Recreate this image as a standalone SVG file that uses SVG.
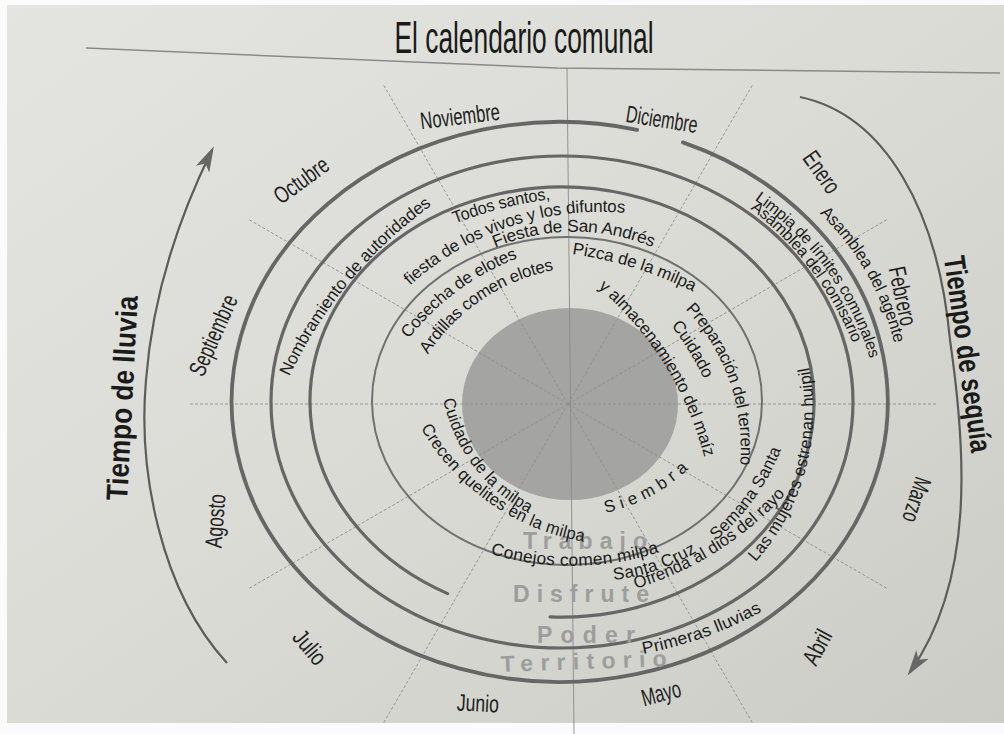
<svg xmlns="http://www.w3.org/2000/svg" width="1004" height="734" viewBox="0 0 1004 734">
<defs>
<linearGradient id="paper" x1="0" y1="0" x2="1" y2="1">
<stop offset="0" stop-color="#e4e5e0"/>
<stop offset="0.5" stop-color="#dadbd5"/>
<stop offset="1" stop-color="#cbccc6"/>
</linearGradient>
<marker id="ah" viewBox="0 0 24 14" refX="20" refY="7" markerWidth="26" markerHeight="15" markerUnits="userSpaceOnUse" orient="auto">
<path d="M0,0 L24,7 L0,14 L6,7 Z" fill="#676767"/>
</marker>
<path id="p1" d="M284 374 A450 450 0 0 1 430 199"/>
<path id="p2" d="M453 218 A400 400 0 0 1 553 193"/>
<path id="p3" d="M406 281 A288 288 0 0 1 635 208"/>
<path id="p4" d="M493 242 A210 210 0 0 1 658 243"/>
<path id="p5" d="M573 248 A405 405 0 0 1 697 287"/>
<path id="p6" d="M404 335 A260 260 0 0 1 517 252"/>
<path id="p7" d="M423 351 A200 200 0 0 1 554 264"/>
<path id="p8" d="M602 283 A342 342 0 0 1 711 459"/>
<path id="p9" d="M676 322 A300 300 0 0 1 711 380"/>
<path id="p10" d="M690 305 A209 209 0 0 1 746 467"/>
<path id="p11" d="M604 507 A169 169 0 0 0 686 463"/>
<path id="p12" d="M449 398 A160 160 0 0 0 530 507"/>
<path id="p13" d="M426 425 A227 227 0 0 0 587 536"/>
<path id="p14" d="M492 548 A279 279 0 0 0 662 545"/>
<path id="p15" d="M613 574 A200 200 0 0 0 695 546"/>
<path id="p16" d="M634 583 A330 330 0 0 0 782 489"/>
<path id="p17" d="M712 536 A224 224 0 0 0 776 446"/>
<path id="p18" d="M751 558 A220 220 0 0 0 803 367"/>
<path id="p19" d="M642 648 A400 400 0 0 0 761 605"/>
<path id="p20" d="M824 209 A274 274 0 0 1 900 342"/>
<path id="p21" d="M758 195 A300 300 0 0 1 877 362"/>
<path id="p22" d="M754 204 A330 330 0 0 1 860 345"/>
</defs>
<style>
.ring{fill:none;stroke:#666;stroke-width:3.2;stroke-linecap:round}
.thin{stroke:#707070;stroke-width:2}
.rad{stroke:#8e8e8e;stroke-width:0.9;stroke-dasharray:3 2;fill:none}
.t{font-family:"Liberation Sans",Arial,sans-serif;font-size:17px;fill:#1c1c1c;dominant-baseline:central}
.sm{font-size:16px}
.mo{font-family:"Liberation Sans",Arial,sans-serif;font-size:24px;fill:#222;text-anchor:middle;dominant-baseline:central}
.band{font-family:"Liberation Sans",Arial,sans-serif;font-size:23px;font-weight:bold;fill:#9d9d9d}
.season{font-family:"Liberation Sans",Arial,sans-serif;font-size:30px;font-weight:bold;fill:#1a1a1a;text-anchor:middle;dominant-baseline:central}
.arrow{fill:none;stroke:#5c5c5c;stroke-width:2.2}
</style>
<rect width="1004" height="734" fill="#fbfbfb"/>
<rect x="7" y="5" width="997" height="718" fill="url(#paper)"/>

<g id="title">
<polyline points="86,48 557,68 1000,73" fill="none" stroke="#8a8a8a" stroke-width="1.5"/>
<text x="524" y="53" text-anchor="middle" textLength="259" lengthAdjust="spacingAndGlyphs" style="font-family:'Liberation Sans',Arial,sans-serif;font-size:44px;fill:#1a1a1a">El calendario comunal</text>
</g>

<g id="disk">
<ellipse cx="570" cy="404" rx="108" ry="96" fill="#a4a4a2"/>
</g>

<g id="radials">
<line class="rad" x1="567" y1="68" x2="574" y2="734" style="stroke-dasharray:none;stroke:#8a8a8a"/>
<line class="rad" x1="568" y1="404" x2="938" y2="404"/>
<line class="rad" x1="568" y1="404" x2="888" y2="589"/>
<line class="rad" x1="568" y1="404" x2="753" y2="724"/>
<line class="rad" x1="568" y1="404" x2="383" y2="724"/>
<line class="rad" x1="568" y1="404" x2="248" y2="589"/>
<line class="rad" x1="568" y1="404" x2="190" y2="404"/>
<line class="rad" x1="568" y1="404" x2="248" y2="219"/>
<line class="rad" x1="568" y1="404" x2="383" y2="84"/>
<line class="rad" x1="568" y1="404" x2="753" y2="84"/>
<line class="rad" x1="568" y1="404" x2="888" y2="219"/>
</g>

<g id="rings">
<ellipse class="ring thin" cx="567" cy="401" rx="195" ry="164"/>
<path class="ring" d="M447.6 593.6 A252 215 0 1 1 550.1 616.8"/>
<ellipse class="ring" cx="562" cy="402" rx="291" ry="246"/>
<path class="ring" style="stroke-width:3.8" d="M682.9 142.4 A328 280 0 1 1 637.1 129.8"/>
</g>

<g id="bands">
<text class="band" x="523" y="549" textLength="124" lengthAdjust="spacing">Trabajo</text>
<text class="band" x="513" y="602" textLength="136" lengthAdjust="spacing">Disfrute</text>
<text class="band" x="537" y="643" textLength="98" lengthAdjust="spacing">Poder</text>
<text class="band" x="501" y="672" textLength="166" lengthAdjust="spacing" transform="rotate(-2 501 672)">Territorio</text>
</g>

<g id="connectors">
<path class="arrow" d="M227 663 C160 590 138 470 146 380 C153 290 180 215 212 150" marker-end="url(#ah)"/>
<path class="arrow" d="M800 97 C885 115 938 210 950 340 C966 450 975 580 910 672" marker-end="url(#ah)"/>
</g>

<g id="seasons">
<text id="lluvia" class="season" transform="translate(122,398) rotate(-87)" textLength="205" lengthAdjust="spacingAndGlyphs">Tiempo de lluvia</text>
<text id="sequia" class="season" transform="translate(968,354) rotate(82)" textLength="198" lengthAdjust="spacingAndGlyphs">Tiempo de sequía</text>
</g>

<g id="months">
<g id="m-nov"><text class="mo" transform="translate(460,116) rotate(-7)" textLength="80" lengthAdjust="spacingAndGlyphs">Noviembre</text></g>
<g id="m-dic"><text class="mo" transform="translate(662,119) rotate(9)" textLength="72" lengthAdjust="spacingAndGlyphs">Diciembre</text></g>
<g id="m-ene"><text class="mo" transform="translate(822,172) rotate(55)" textLength="46" lengthAdjust="spacingAndGlyphs">Enero</text></g>
<g id="m-feb"><text class="mo" transform="translate(903,296) rotate(78)" textLength="60" lengthAdjust="spacingAndGlyphs">Febrero</text></g>
<g id="m-mar"><text class="mo" transform="translate(917,500) rotate(108)" textLength="46" lengthAdjust="spacingAndGlyphs">Marzo</text></g>
<g id="m-abr"><text class="mo" transform="translate(817,647) rotate(-62)" textLength="36" lengthAdjust="spacingAndGlyphs">Abril</text></g>
<g id="m-may"><text class="mo" transform="translate(661,693) rotate(-15)" textLength="40" lengthAdjust="spacingAndGlyphs">Mayo</text></g>
<g id="m-jun"><text class="mo" transform="translate(478,703) rotate(3)" textLength="42" lengthAdjust="spacingAndGlyphs">Junio</text></g>
<g id="m-jul"><text class="mo" transform="translate(310,647) rotate(50)" textLength="38" lengthAdjust="spacingAndGlyphs">Julio</text></g>
<g id="m-ago"><text class="mo" transform="translate(215,521) rotate(-86)" textLength="54" lengthAdjust="spacingAndGlyphs">Agosto</text></g>
<g id="m-sep"><text class="mo" transform="translate(213,335) rotate(-66)" textLength="86" lengthAdjust="spacingAndGlyphs">Septiembre</text></g>
<g id="m-oct"><text class="mo" transform="translate(301,180) rotate(-36)" textLength="62" lengthAdjust="spacingAndGlyphs">Octubre</text></g>
</g>

<g id="events">
<g id="e1"><text class="t"><textPath href="#p1" textLength="228" lengthAdjust="spacingAndGlyphs">Nombramiento de autoridades</textPath></text></g>
<g id="e2"><text class="t"><textPath href="#p2" textLength="100" lengthAdjust="spacingAndGlyphs">Todos santos,</textPath></text></g>
<g id="e3"><text class="t"><textPath href="#p3" textLength="238" lengthAdjust="spacingAndGlyphs">fiesta de los vivos y los difuntos</textPath></text></g>
<g id="e4"><text class="t"><textPath href="#p4" textLength="166" lengthAdjust="spacingAndGlyphs">Fiesta de San Andrés</textPath></text></g>
<g id="e5"><text class="t"><textPath href="#p5" textLength="129" lengthAdjust="spacingAndGlyphs">Pizca de la milpa</textPath></text></g>
<g id="e6"><text class="t"><textPath href="#p6" textLength="140" lengthAdjust="spacingAndGlyphs">Cosecha de elotes</textPath></text></g>
<g id="e7"><text class="t"><textPath href="#p7" textLength="160" lengthAdjust="spacingAndGlyphs">Ardillas comen elotes</textPath></text></g>
<g id="e8"><text class="t"><textPath href="#p8" textLength="207" lengthAdjust="spacingAndGlyphs">y almacenamiento del maíz</textPath></text></g>
<g id="e9"><text class="t"><textPath href="#p9" textLength="64" lengthAdjust="spacingAndGlyphs">Cuidado</textPath></text></g>
<g id="e10"><text class="t"><textPath href="#p10" textLength="175" lengthAdjust="spacingAndGlyphs">Preparación del terreno</textPath></text></g>
<g id="e11"><text class="t"><textPath href="#p11" textLength="92" lengthAdjust="spacing">Siembra</textPath></text></g>
<g id="e12"><text class="t"><textPath href="#p12" textLength="142" lengthAdjust="spacingAndGlyphs">Cuidado de la milpa</textPath></text></g>
<g id="e13"><text class="t"><textPath href="#p13" textLength="200" lengthAdjust="spacingAndGlyphs">Crecen quelites en la milpa</textPath></text></g>
<g id="e14"><text class="t"><textPath href="#p14" textLength="168" lengthAdjust="spacingAndGlyphs">Conejos comen milpa</textPath></text></g>
<g id="e15"><text class="t"><textPath href="#p15" textLength="86" lengthAdjust="spacingAndGlyphs">Santa Cruz</textPath></text></g>
<g id="e16"><text class="t"><textPath href="#p16" textLength="176" lengthAdjust="spacingAndGlyphs">Ofrenda al dios del rayo</textPath></text></g>
<g id="e17"><text class="t"><textPath href="#p17" textLength="110" lengthAdjust="spacingAndGlyphs">Semana Santa</textPath></text></g>
<g id="e18"><text class="t"><textPath href="#p18" textLength="204" lengthAdjust="spacingAndGlyphs">Las mujeres estrenan huipil</textPath></text></g>
<g id="e19"><text class="t"><textPath href="#p19" textLength="125" lengthAdjust="spacingAndGlyphs">Primeras lluvias</textPath></text></g>
<g id="e20"><text class="t"><textPath href="#p20" textLength="155" lengthAdjust="spacingAndGlyphs">Asamblea del agente</textPath></text></g>
<g id="e21"><text class="t sm"><textPath href="#p21" textLength="204" lengthAdjust="spacingAndGlyphs">Limpia de límites comunales</textPath></text></g>
<g id="e22"><text class="t sm"><textPath href="#p22" textLength="174" lengthAdjust="spacingAndGlyphs">Asamblea del comisario</textPath></text></g>
</g>
</svg>
